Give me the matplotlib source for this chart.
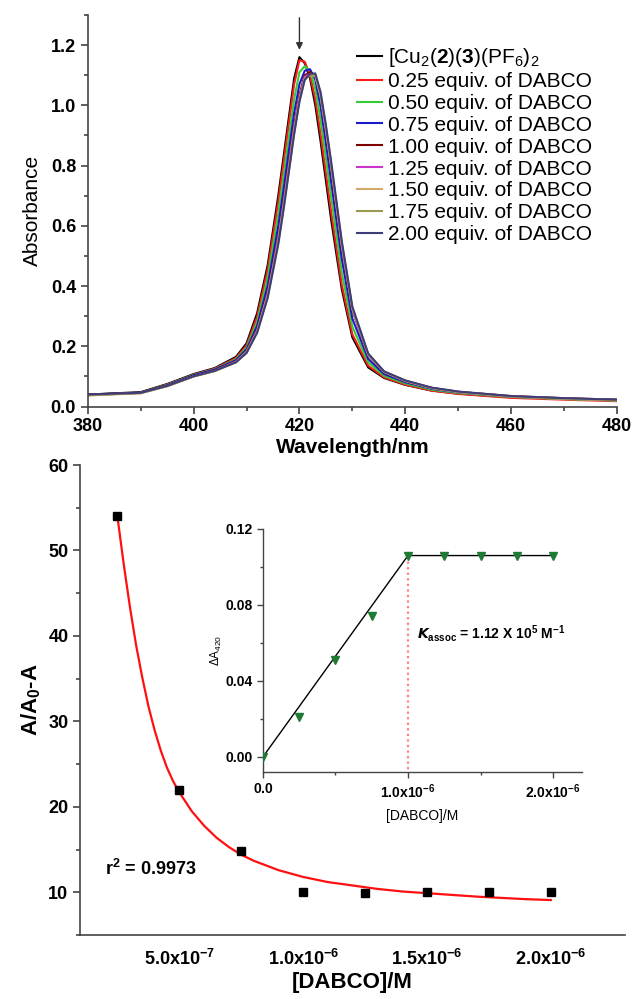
import matplotlib
matplotlib.use("Agg")
import matplotlib.pyplot as plt
from matplotlib.ticker import MultipleLocator

plt.rcParams['font.family'] = ['Liberation Sans', 'DejaVu Sans']
plt.rcParams['mathtext.fontset'] = 'custom'
plt.rcParams['mathtext.rm'] = 'Liberation Sans'
plt.rcParams['mathtext.it'] = 'Liberation Sans:italic'
plt.rcParams['mathtext.bf'] = 'Liberation Sans:bold'

# ---- top panel: UV-vis titration spectra ----
wl = [380, 390, 395, 400, 404, 408, 410, 412, 414, 416, 417, 418, 419, 420, 421,
      422, 423, 424, 425, 426, 428, 430, 433, 436, 440, 445, 450, 460, 470, 480]

spectra = {
    "start": [0.040, 0.048, 0.075, 0.108, 0.128, 0.165, 0.210, 0.310, 0.470, 0.700, 0.830, 0.960, 1.090, 1.160, 1.140,
              1.090, 1.000, 0.880, 0.750, 0.620, 0.390, 0.230, 0.130, 0.095, 0.072, 0.053, 0.043, 0.031, 0.026, 0.022],
    "0.25": [0.038, 0.046, 0.073, 0.106, 0.126, 0.161, 0.203, 0.298, 0.455, 0.680, 0.810, 0.940, 1.070, 1.150, 1.145,
             1.100, 1.020, 0.905, 0.775, 0.645, 0.405, 0.240, 0.136, 0.097, 0.073, 0.053, 0.042, 0.029, 0.023, 0.018],
    "0.50": [0.038, 0.046, 0.072, 0.105, 0.124, 0.157, 0.196, 0.282, 0.428, 0.640, 0.765, 0.895, 1.020, 1.110, 1.130,
             1.115, 1.055, 0.950, 0.825, 0.695, 0.445, 0.265, 0.147, 0.102, 0.077, 0.056, 0.045, 0.032, 0.025, 0.020],
    "0.75": [0.039, 0.046, 0.071, 0.104, 0.123, 0.154, 0.190, 0.268, 0.402, 0.600, 0.722, 0.850, 0.975, 1.070, 1.115,
             1.120, 1.085, 0.995, 0.875, 0.745, 0.490, 0.292, 0.158, 0.108, 0.081, 0.059, 0.047, 0.033, 0.027, 0.022],
    "1.00": [0.040, 0.046, 0.069, 0.101, 0.120, 0.150, 0.184, 0.255, 0.378, 0.562, 0.680, 0.805, 0.930, 1.035, 1.100,
             1.110, 1.100, 1.030, 0.915, 0.790, 0.530, 0.320, 0.170, 0.114, 0.085, 0.062, 0.049, 0.035, 0.028, 0.023],
    "1.25": [0.039, 0.045, 0.068, 0.100, 0.119, 0.149, 0.182, 0.252, 0.373, 0.555, 0.672, 0.797, 0.922, 1.028, 1.095,
             1.105, 1.098, 1.030, 0.918, 0.794, 0.534, 0.323, 0.171, 0.115, 0.085, 0.062, 0.049, 0.034, 0.027, 0.022],
    "1.50": [0.037, 0.044, 0.068, 0.100, 0.118, 0.148, 0.181, 0.250, 0.370, 0.550, 0.667, 0.791, 0.916, 1.022, 1.090,
             1.100, 1.097, 1.030, 0.920, 0.798, 0.538, 0.325, 0.172, 0.115, 0.085, 0.061, 0.048, 0.033, 0.026, 0.021],
    "1.75": [0.038, 0.045, 0.068, 0.100, 0.118, 0.147, 0.179, 0.247, 0.365, 0.544, 0.660, 0.784, 0.909, 1.016, 1.086,
             1.100, 1.100, 1.036, 0.927, 0.805, 0.544, 0.328, 0.174, 0.116, 0.086, 0.062, 0.049, 0.034, 0.027, 0.022],
    "2.00": [0.040, 0.046, 0.069, 0.101, 0.119, 0.147, 0.178, 0.245, 0.361, 0.539, 0.654, 0.779, 0.904, 1.012, 1.085,
             1.105, 1.106, 1.044, 0.935, 0.813, 0.550, 0.332, 0.176, 0.117, 0.087, 0.063, 0.050, 0.035, 0.028, 0.023],
}
labels = [r"[Cu$_2$($\mathbf{2}$)($\mathbf{3}$)(PF$_6$)$_2$",
          "0.25 equiv. of DABCO", "0.50 equiv. of DABCO", "0.75 equiv. of DABCO",
          "1.00 equiv. of DABCO", "1.25 equiv. of DABCO", "1.50 equiv. of DABCO",
          "1.75 equiv. of DABCO", "2.00 equiv. of DABCO"]
colors = ["black", "#ff1a1a", "#33cc33", "#1a1acc", "#800000", "#cc33cc",
          "#d4a86a", "#9a9a50", "#3d3d7a"]

# ---- bottom panel: binding plot ----
conc = [2.5e-7, 5.0e-7, 7.5e-7, 1.0e-6, 1.25e-6, 1.5e-6, 1.75e-6, 2.0e-6]
ratio = [54.0, 22.0, 14.8, 10.0, 9.9, 10.0, 10.0, 10.0]
fit_x = [2.5e-7, 2.75e-7, 3e-7, 3.25e-7, 3.5e-7, 3.75e-7, 4e-7, 4.25e-7, 4.5e-7, 4.75e-7,
         5e-7, 5.5e-7, 6e-7, 6.5e-7, 7e-7, 7.5e-7, 8e-7, 9e-7, 1e-6, 1.1e-6,
         1.2e-6, 1.3e-6, 1.4e-6, 1.5e-6, 1.6e-6, 1.7e-6, 1.8e-6, 1.9e-6, 2e-6]
fit_y = [54, 48.5, 43.5, 39, 35.2, 31.8, 29, 26.6, 24.6, 23.0,
         21.7, 19.5, 17.8, 16.4, 15.3, 14.4, 13.7, 12.6, 11.8, 11.2,
         10.8, 10.4, 10.1, 9.9, 9.7, 9.5, 9.35, 9.2, 9.1]
bx_ticks = [5e-7, 1e-6, 1.5e-6, 2e-6]
bx_labels = [r"$\mathbf{5.0x10^{-7}}$", r"$\mathbf{1.0x10^{-6}}$",
             r"$\mathbf{1.5x10^{-6}}$", r"$\mathbf{2.0x10^{-6}}$"]

# inset: delta A at 420 nm
in_conc = [0.0, 2.5e-7, 5.0e-7, 7.5e-7, 1.0e-6, 1.25e-6, 1.5e-6, 1.75e-6, 2.0e-6]
dA = [0.0, 0.021, 0.051, 0.074, 0.106, 0.106, 0.106, 0.106, 0.106]
line_x = [0.0, 1.0e-6, 2.0e-6]
line_y = [0.0, 0.106, 0.106]
ix_ticks = [0.0, 1e-6, 2e-6]
ix_labels = [r"$\mathbf{0.0}$", r"$\mathbf{1.0x10^{-6}}$", r"$\mathbf{2.0x10^{-6}}$"]

axcol = "#444444"


def style(ax, lw=1.2, size=5):
    ax.spines['top'].set_visible(False)
    ax.spines['right'].set_visible(False)
    for s in ['left', 'bottom']:
        ax.spines[s].set_color(axcol)
        ax.spines[s].set_linewidth(lw)
    ax.tick_params(which='major', direction='out', length=size, width=lw, color=axcol)
    ax.tick_params(which='minor', direction='out', length=size * 0.6, width=lw, color=axcol)


fig = plt.figure(figsize=(6.32, 9.99), dpi=100)

ax1 = fig.add_axes([0.139, 0.593, 0.837, 0.392])
for key, c, lab in zip(spectra, colors, labels):
    ax1.plot(wl, spectra[key], color=c, lw=1.5, label=lab)
ax1.set_xlim(380, 480)
ax1.set_ylim(0, 1.3)
ax1.set_xticks([380, 400, 420, 440, 460, 480])
ax1.set_yticks([0.0, 0.2, 0.4, 0.6, 0.8, 1.0, 1.2])
ax1.xaxis.set_minor_locator(MultipleLocator(10))
ax1.yaxis.set_minor_locator(MultipleLocator(0.1))
style(ax1)
for t in ax1.get_xticklabels() + ax1.get_yticklabels():
    t.set_fontweight('bold')
    t.set_fontsize(13)
ax1.set_xlabel("Wavelength/nm", fontsize=15, fontweight='bold', labelpad=2)
ax1.set_ylabel("Absorbance", fontsize=15, labelpad=6)
ax1.annotate("", xy=(420, 1.175), xytext=(420, 1.30),
             arrowprops=dict(arrowstyle='-|>', color='#333333', lw=1.0,
                             mutation_scale=10))
ax1.legend(loc='upper left', bbox_to_anchor=(357 / 632, 1 - 46 / 999),
           bbox_transform=fig.transFigure, frameon=False, fontsize=15,
           handlelength=1.2, handletextpad=0.3, labelspacing=0.14,
           borderpad=0, borderaxespad=0)

ax2 = fig.add_axes([0.127, 0.064, 0.862, 0.4705])
ax2.plot(fit_x, fit_y, color='#ff1010', lw=1.6, zorder=2)
ax2.plot(conc, ratio, 's', color='black', ms=6, zorder=3)
ax2.set_xlim(1e-7, 2.3e-6)
ax2.set_ylim(5, 60)
ax2.set_xticks(bx_ticks)
ax2.set_xticklabels(bx_labels, fontsize=13)
ax2.set_yticks([10, 20, 30, 40, 50, 60])
ax2.yaxis.set_minor_locator(MultipleLocator(5))
style(ax2)
ax2.tick_params(axis='x', length=0, pad=10)
for t in ax2.get_yticklabels():
    t.set_fontweight('bold')
    t.set_fontsize(13)
ax2.set_xlabel("[DABCO]/M", fontsize=16, fontweight='bold', labelpad=2)
ax2.set_ylabel(r"A/A$_\mathbf{0}$-A", fontsize=16, fontweight='bold', labelpad=4)
ax2.text(2.0e-7, 12.7, r"r$^\mathbf{2}$ = 0.9973", fontsize=13, fontweight='bold',
         va='center', ha='left')

ax3 = fig.add_axes([0.416, 0.2272, 0.505, 0.2433])
ax3.plot(line_x, line_y, color='black', lw=1.0, zorder=2)
ax3.plot([1e-6, 1e-6], [0.106, -0.008], color='#ff8080', lw=1.6,
         linestyle=(0, (1, 1.5)), zorder=1)
ax3.plot(in_conc, dA, 'v', color='#1e7a34', ms=5.5, zorder=3)
ax3.set_xlim(0, 2.2e-6)
ax3.set_ylim(-0.008, 0.12)
ax3.set_xticks(ix_ticks)
ax3.set_xticklabels(ix_labels, fontsize=10)
ax3.xaxis.set_minor_locator(MultipleLocator(5e-7))
ax3.set_yticks([0.0, 0.04, 0.08, 0.12])
ax3.set_yticklabels(["0.00", "0.04", "0.08", "0.12"])
ax3.yaxis.set_minor_locator(MultipleLocator(0.02))
style(ax3, lw=1.0, size=4)
for t in ax3.get_yticklabels():
    t.set_fontweight('bold')
    t.set_fontsize(10)
ax3.set_xlabel("[DABCO]/M", fontsize=10, labelpad=6)
ax3.set_ylabel(r"$\Delta$A$_{420}$", fontsize=8.5, labelpad=1)
ax3.text(1.06e-6, 0.065, r"$\mathbfit{K}_{\mathbf{assoc}}$ = 1.12 X 10$^{\mathbf{5}}$ M$^{\mathbf{-1}}$",
         fontsize=10, fontweight='bold', va='center', ha='left')

fig.savefig("out.png", dpi=100)
